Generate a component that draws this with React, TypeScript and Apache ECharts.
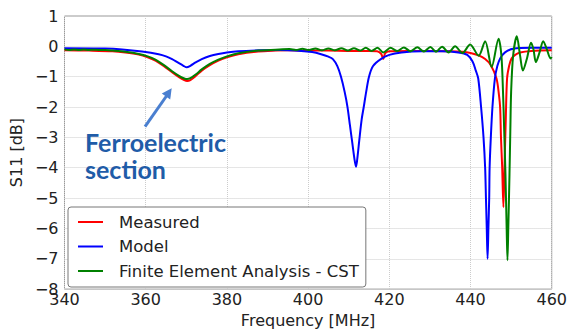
import React, { useEffect, useRef } from "react";
import * as echarts from "echarts";

const xTicks = [340, 360, 380, 400, 420, 440, 460];
const yTicks = [-8, -7, -6, -5, -4, -3, -2, -1, 0, 1];

const measuredFreq = [
  340, 346, 351.8, 355, 358.3, 360.5, 362.4, 364.5, 366.5, 368.3, 369.5, 370.2, 371, 372.3, 373.8,
  375.8, 377.9, 380, 382.8, 387.7, 392, 395, 400, 405, 410, 415, 417, 418, 418.5, 419, 420, 425,
  430, 435, 438, 440, 442, 443.6, 445, 446.4, 447, 447.3, 447.5, 447.8, 448.1, 448.4, 448.7, 449,
  449.5, 450.1, 451, 452.2, 455, 460,
];
const measuredS11 = [
  -0.13, -0.14, -0.16, -0.2, -0.27, -0.36, -0.47, -0.65, -0.85, -1.02, -1.11, -1.14, -1.11, -0.98,
  -0.8, -0.62, -0.47, -0.36, -0.26, -0.17, -0.14, -0.13, -0.14, -0.14, -0.15, -0.15, -0.16, -0.25,
  -0.42, -0.22, -0.16, -0.15, -0.15, -0.16, -0.18, -0.22, -0.3, -0.42, -0.62, -1.06, -1.6, -2.03,
  -3.0, -4.0, -5.3, -3.8, -2.3, -1.06, -0.65, -0.4, -0.28, -0.2, -0.15, -0.13,
];

const modelFreq = [
  340, 350, 354.2, 359.1, 363.2, 365, 366.5, 368, 369.3, 370.1, 371, 372.3, 373.8, 375.8, 377.9,
  380, 382.8, 388, 393, 398.3, 401, 403.2, 405, 406.1, 407.2, 408.1, 409, 409.7, 410.3, 410.9,
  411.4, 411.8, 412.2, 412.6, 413.2, 413.7, 414.3, 415, 416, 417.9, 420, 423, 428, 433, 437, 439.2,
  440.5, 441.3, 441.9, 442.6, 443.2, 443.6, 443.8, 444, 444.2, 444.4, 444.6, 444.7, 445, 445.4,
  446, 446.6, 447.3, 448.5, 450.5, 455, 460,
];
const modelS11 = [
  -0.06, -0.07, -0.1, -0.17, -0.26, -0.33, -0.42, -0.54, -0.64, -0.69, -0.64, -0.53, -0.42, -0.32,
  -0.25, -0.2, -0.16, -0.13, -0.12, -0.15, -0.19, -0.26, -0.34, -0.42, -0.65, -1.0, -1.5, -2.0,
  -2.6, -3.2, -3.7, -3.97, -3.6, -3.1, -2.4, -2.0, -1.5, -1.0, -0.65, -0.42, -0.28, -0.2, -0.16,
  -0.16, -0.2, -0.28, -0.5, -0.8, -1.06, -2.0, -3.0, -4.0, -5.0, -6.0, -7.0, -6.0, -5.0, -4.0,
  -3.0, -2.0, -1.06, -0.65, -0.4, -0.2, -0.08, -0.05, -0.05,
];

const cstFreq = [
  340, 341.2, 342.4, 343.6, 344.8, 346, 347.2, 348.4, 350, 352, 355, 358.3, 360.5, 362.4, 364.5,
  366.5, 368.3, 369.5, 370.2, 371, 372.3, 373.8, 375.8, 377.9, 380, 382.8, 387.7, 392, 395.4, 397,
  398.6, 400.2, 401.8, 403.4, 405, 406.6, 408.2, 409.8, 411.3, 412.8, 414.2, 415.6, 417.1, 418.5,
  420.3, 421.9, 423.6, 425.2, 426.9, 428.5, 430.1, 431.5, 433, 434.6, 436.2, 438, 439.9, 442,
  443.6, 445.2, 446.9, 447.6, 448, 448.3, 448.6, 448.9, 449.1, 449.3, 449.6, 449.8, 450, 450.5,
  451.4, 452.2, 452.9, 453.9, 454.9, 455.5, 456.1, 457, 457.9, 458.8, 459.7, 460,
];
const cstS11 = [
  -0.1, -0.12, -0.1, -0.12, -0.1, -0.12, -0.11, -0.12, -0.12, -0.14, -0.18, -0.25, -0.33, -0.44,
  -0.62, -0.82, -0.98, -1.06, -1.08, -1.05, -0.93, -0.76, -0.58, -0.44, -0.33, -0.23, -0.14, -0.11,
  -0.09, -0.12, -0.08, -0.12, -0.07, -0.13, -0.07, -0.13, -0.06, -0.14, -0.06, -0.14, -0.05, -0.15,
  -0.05, -0.2, -0.05, -0.15, -0.04, -0.16, -0.03, -0.17, -0.02, -0.18, -0.01, -0.2, 0.0, -0.22,
  0.06, -0.31, 0.17, -0.68, 0.25, -0.3, -1.5, -2.8, -4.2, -6.0, -7.05, -6.0, -4.2, -2.8, -1.5,
  -0.3, 0.33, -0.3, -0.8, -0.4, 0.12, -0.1, -0.52, -0.2, 0.17, -0.1, -0.4, -0.35,
];

const seriesNames = ["Measured", "Model", "Finite Element Analysis - CST"];
const seriesColors = ["#ff0000", "#0000ff", "#008000"];

const zip = (xs: number[], ys: number[]) => xs.map((x, i) => [x, ys[i]]);

export default function App() {
  const ref = useRef<HTMLDivElement>(null);
  useEffect(() => {
    if (!ref.current) return;
    document.body.style.margin = "0";
    const chart = echarts.init(ref.current, undefined, { renderer: "svg" });
    const font = "DejaVu Sans";
    const datasets = [
      zip(measuredFreq, measuredS11),
      zip(modelFreq, modelS11),
      zip(cstFreq, cstS11),
    ];
    chart.setOption({
      animation: false,
      backgroundColor: "#ffffff",
      grid: {
        left: 62,
        right: 18,
        top: 16,
        bottom: 38,
        show: true,
        borderColor: "#999999",
        borderWidth: 1,
        backgroundColor: "transparent",
      },
      xAxis: {
        type: "value",
        min: xTicks[0],
        max: xTicks[xTicks.length - 1],
        interval: 20,
        name: "Frequency [MHz]",
        nameLocation: "middle",
        nameGap: 19,
        nameTextStyle: { fontFamily: font, fontSize: 16, color: "#222" },
        axisLine: { show: false },
        axisTick: { show: false },
        axisLabel: { fontFamily: font, fontSize: 16, color: "#222", margin: 2 },
        splitLine: { show: true, lineStyle: { type: "dotted", color: "#cccccc", width: 1 } },
      },
      yAxis: {
        type: "value",
        min: yTicks[0],
        max: yTicks[yTicks.length - 1],
        interval: 1,
        name: "S11 [dB]",
        nameLocation: "middle",
        nameGap: 34,
        nameTextStyle: { fontFamily: font, fontSize: 16, color: "#222" },
        axisLine: { show: false },
        axisTick: { show: false },
        axisLabel: {
          fontFamily: font,
          fontSize: 16,
          color: "#222",
          margin: 6,
          formatter: (v: number) => String(v).replace("-", "\u2212"),
        },
        splitLine: { show: true, lineStyle: { type: "dotted", color: "#cccccc", width: 1 } },
      },
      legend: {
        orient: "vertical",
        left: 68,
        top: 207,
        padding: [5, 7, 6, 10],
        itemGap: 4.5,
        itemWidth: 25,
        itemHeight: 2,
        icon: "rect",
        borderColor: "#777777",
        borderWidth: 1,
        borderRadius: 3,
        backgroundColor: "#ffffff",
        textStyle: {
          fontFamily: font,
          fontSize: 16.5,
          color: "#222",
          lineHeight: 20,
          padding: [0, 0, 0, 11],
        },
        data: seriesNames,
      },
      series: datasets.map((d, i) => ({
        name: seriesNames[i],
        type: "line",
        data: d,
        showSymbol: false,
        smooth: 0.3,
        lineStyle: { color: seriesColors[i], width: 2 },
        itemStyle: { color: seriesColors[i] },
        z: 2 + i,
      })),
      graphic: [
        {
          type: "line",
          shape: { x1: 145, y1: 126.7, x2: 166.5, y2: 96 },
          style: { stroke: "#4a7fd0", lineWidth: 3 },
          z: 10,
        },
        {
          type: "polygon",
          shape: {
            points: [
              [171.7, 88.3],
              [170.2, 99.6],
              [161.8, 93.6],
            ],
          },
          style: { fill: "#4a7fd0" },
          z: 10,
        },
        {
          type: "text",
          left: 85,
          top: 129,
          style: {
            text: "Ferroelectric\nsection",
            fontFamily: "Lato",
            fontWeight: "bold",
            fontSize: 25,
            lineHeight: 26.5,
            fill: "#1f5ca8",
          },
          z: 10,
        },
      ],
    });
    return () => chart.dispose();
  }, []);
  return <div ref={ref} style={{ width: 570, height: 333 }} />;
}
